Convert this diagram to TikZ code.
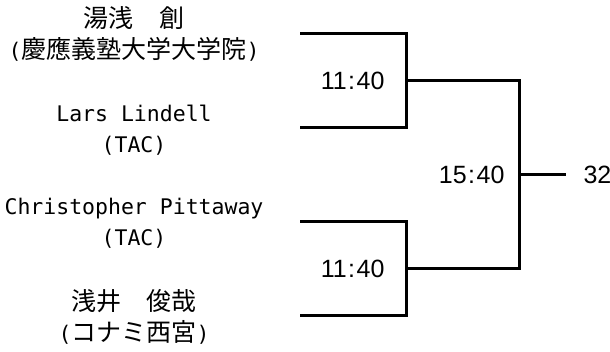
\documentclass[tikz,border=0pt]{standalone}
\usepackage{fontspec}
\setmainfont{DejaVu Sans Mono}
\newfontfamily\jp[Scale=1.163]{Noto Sans CJK JP}
\newfontfamily\num{Liberation Sans}
\usetikzlibrary{positioning}
\newcommand\sep{\kern1.5pt:\kern1.5pt}
\tikzset{
  player/.style={align=center, font=\fontsize{21.5}{31}\selectfont},
  score/.style={font=\num\fontsize{25}{30}\selectfont},
  bracket/.style={line width=3pt},
}
\begin{document}
\begin{tikzpicture}[x=1pt,y=-1pt]
      \useasboundingbox (0,0) rectangle (610,352);
      % players
      \node[player] (p1) at (134,34) {{\jp 湯浅　創}\\({\jp 慶應義塾大学大学院})};
      \node[player] (p2) at (134,130) {Lars Lindell\\(TAC)};
      \node[player] (p3) at (134,223) {Christopher Pittaway\\(TAC)};
      \node[player] (p4) at (134,317) {{\jp 浅井　俊哉}\\({\jp コナミ西宮})};
      % bracket points
      \coordinate (a1) at (300,34);
      \coordinate (a2) at (300,128);
      \coordinate (a3) at (300,222);
      \coordinate (a4) at (300,316);
      \coordinate (m1) at (406,81);
      \coordinate (m2) at (406,269);
      \coordinate (f) at (519,175);
      \coordinate (e) at (566,175);
      \begin{scope}[bracket]
        \draw (a1) -| (m1) |- (a2);
        \draw (a3) -| (m2) |- (a4);
        \draw (m1) -| (f) |- (m2);
        \draw (f) -- (e);
      \end{scope}
      % scores
      \node[score, left=18pt of m1] (s1) {11\sep40};
      \node[score, left=18pt of m2] (s2) {11\sep40};
      \node[score, left=11pt of f] (s3) {15\sep40};
      \node[score, right=14pt of e] (res) {32};
    \end{tikzpicture}
\end{document}
